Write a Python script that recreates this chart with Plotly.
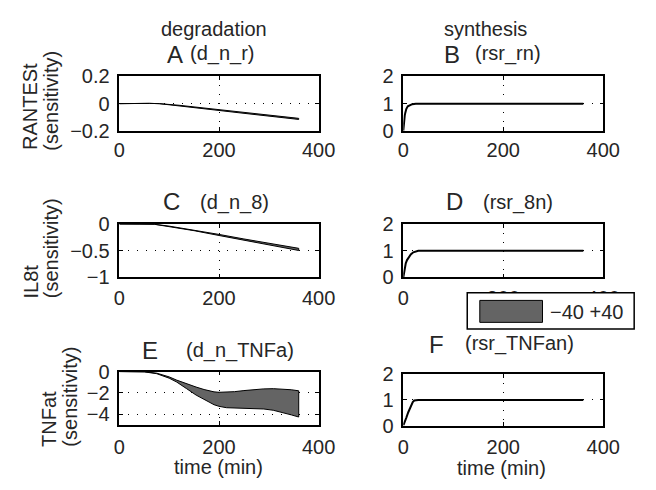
import plotly.graph_objects as go

W, H = 656, 490

# ---------------- data ----------------
tA = [0, 20, 40, 60, 80, 100, 120, 160, 200, 240, 280, 320, 360]
A_hi = [0.0, 0.002, 0.003, 0.002, 0.0, -0.005, -0.012, -0.028, -0.045, -0.061, -0.077, -0.093, -0.108]
A_lo = [0.0, 0.002, 0.003, 0.002, 0.0, -0.007, -0.015, -0.032, -0.050, -0.067, -0.084, -0.101, -0.116]

tC = [0, 40, 70, 100, 150, 200, 250, 300, 360]
C_hi = [0.0, 0.0, -0.005, -0.040, -0.115, -0.195, -0.280, -0.360, -0.455]
C_lo = [0.0, 0.0, -0.005, -0.045, -0.125, -0.215, -0.305, -0.395, -0.495]

tE = [0, 25, 50, 75, 100, 115, 135, 154, 170, 180, 190, 200, 215, 231, 250, 270, 290, 309, 330, 345, 360]
E_hi = [0.0, 0.0, -0.02, -0.15, -0.50, -0.80, -1.15, -1.45, -1.68, -1.80, -1.90, -1.94, -1.93, -1.88,
        -1.78, -1.68, -1.62, -1.60, -1.63, -1.70, -1.80]
E_lo = [0.0, 0.0, -0.03, -0.20, -0.62, -0.98, -1.60, -2.20, -2.60, -2.85, -3.10, -3.25, -3.38, -3.45,
        -3.48, -3.47, -3.50, -3.62, -3.85, -4.05, -4.25]

tB = [0, 1, 2, 3, 4, 6, 9, 13, 18, 25, 40, 360]
B_val = [0.0, 0.28, 0.45, 0.57, 0.66, 0.80, 0.90, 0.95, 0.98, 1.0, 1.0, 1.0]

tD = [0, 1, 2, 3, 5, 7.5, 10, 15, 20, 25, 30, 40, 360]
D_val = [0.0, 0.15, 0.28, 0.38, 0.53, 0.65, 0.73, 0.86, 0.94, 0.98, 1.0, 1.0, 1.0]

tF = [0, 3, 6, 10, 13, 16, 19, 22, 26, 30, 360]
F_val = [0.0, 0.13, 0.30, 0.52, 0.68, 0.82, 0.92, 0.98, 1.0, 1.0, 1.0]

x_ticks = [0, 200, 400]
yticks_A = [-0.2, 0, 0.2]
yticks_C = [-1, -0.5, 0]
yticks_E = [-4, -2, 0]
yticks_syn = [0, 1, 2]

col_titles = ["degradation", "synthesis"]
panel_letters = ["A", "B", "C", "D", "E", "F"]
panel_params = ["(d_n_r)", "(rsr_rn)", "(d_n_8)", "(rsr_8n)", "(d_n_TNFa)", "(rsr_TNFan)"]
row_labels = ["RANTESt", "IL8t", "TNFat"]
legend_label = "\u221240 +40"
xlabel = "time (min)"

# ---------------- style ----------------
FONT = "Liberation Sans, Arial, Helvetica, sans-serif"
TXT = "#262626"
FILL = "#646464"


def px(x):
    return x / W


def py(y):
    return 1 - y / H


fig = go.Figure()


def band(t, hi, lo, ax):
    xs = list(t) + list(t)[::-1]
    ys = list(hi) + list(lo)[::-1]
    fig.add_trace(go.Scatter(x=xs, y=ys, fill="toself", fillcolor=FILL, mode="lines",
                             line=dict(color="black", width=1), xaxis="x" + ax, yaxis="y" + ax,
                             showlegend=False, hoverinfo="skip"))


def line(t, v, ax):
    fig.add_trace(go.Scatter(x=t, y=v, mode="lines", line=dict(color="black", width=2),
                             xaxis="x" + ax, yaxis="y" + ax, showlegend=False, hoverinfo="skip"))


band(tA, A_hi, A_lo, "")
line(tB, B_val, "2")
band(tC, C_hi, C_lo, "3")
line(tD, D_val, "4")
band(tE, E_hi, E_lo, "5")
line(tF, F_val, "6")

# panel pixel boxes: (left, right, top, bottom)
boxes = [
    (117.5, 324, 68.5, 125.5),
    (411.7, 619, 68.5, 125.5),
    (117.5, 324, 223, 279),
    (411.7, 619, 223, 279),
    (117.5, 324, 377.5, 433.5),
    (411.7, 619, 380.5, 434),
]
yranges = [[-0.2, 0.2], [0, 2], [-1, 0], [0, 2], [-5, 0], [0, 2]]
yticks = [yticks_A, yticks_syn, yticks_C, yticks_syn, yticks_E, yticks_syn]
x_standoff = [0, 0, 2, 2, 3, 3]

axcommon = dict(showline=True, mirror="ticks", linecolor="black", linewidth=1.5,
                ticks="inside", ticklen=4, tickcolor="black", tickwidth=1,
                showgrid=True, gridcolor="black", gridwidth=1, griddash="1px,8px",
                zeroline=False, tickfont=dict(family=FONT, size=20, color=TXT))

layout = dict(width=W, height=H, margin=dict(l=0, r=0, t=0, b=0),
              paper_bgcolor="white", plot_bgcolor="white", showlegend=False)

for i, (l, r, t, b) in enumerate(boxes):
    sfx = "" if i == 0 else str(i + 1)
    layout["xaxis" + sfx] = dict(axcommon, domain=[px(l), px(r)], range=[0, 400],
                                 tickvals=x_ticks, anchor="y" + sfx,
                                 ticklabelstandoff=x_standoff[i])
    layout["yaxis" + sfx] = dict(axcommon, domain=[py(b), py(t)], range=yranges[i],
                                 tickvals=yticks[i], anchor="x" + sfx, ticklabelstandoff=4)

fig.update_layout(**layout)

ann = []


def text(s, x, y, size=20, xa="center", ya="middle", angle=0):
    ann.append(dict(text=s, x=px(x), y=py(y), xref="paper", yref="paper", showarrow=False,
                    xanchor=xa, yanchor=ya, textangle=angle, borderpad=0,
                    font=dict(family=FONT, size=size, color=TXT)))


text(col_titles[0], 216, 18.5)
text(col_titles[1], 497, 18.5)

# (letter x, letter y, param-text left x, param-text y)
letter_pos = [(175, 45.5, 190, 44), (462, 45.5, 485, 44), (172, 199.5, 200, 200),
              (465, 199.5, 493, 200), (149, 355, 185, 355), (446, 349, 475, 348.5)]
for (lx, ly, plx, ply), L, P in zip(letter_pos, panel_letters, panel_params):
    text(L, lx, ly, size=24)
    text(P, plx, ply, xa="left")

# row labels (rotated, bottom aligned)
rowlab_pos = [(25, 47, 147), (26, 47.5, 302), (45, 66.5, 457)]
for (x1, x2, yb), labtxt in zip(rowlab_pos, row_labels):
    text(labtxt, x1, yb, xa="center", ya="bottom", angle=-90)
    text("(sensitivity)", x2, yb, xa="center", ya="bottom", angle=-90)

text(xlabel, 220, 477.5)
text(xlabel, 513, 478.5)

# legend box
shapes = [
    dict(type="rect", xref="paper", yref="paper", x0=px(478), x1=px(651), y0=py(333), y1=py(295),
         fillcolor="white", line=dict(color="black", width=1.5), layer="above"),
    dict(type="rect", xref="paper", yref="paper", x0=px(491), x1=px(556), y0=py(326), y1=py(303),
         fillcolor=FILL, line=dict(color="black", width=1), layer="above"),
]
text(legend_label, 563, 315, xa="left")

fig.update_layout(annotations=ann, shapes=shapes)
fig.write_html("out.html")
